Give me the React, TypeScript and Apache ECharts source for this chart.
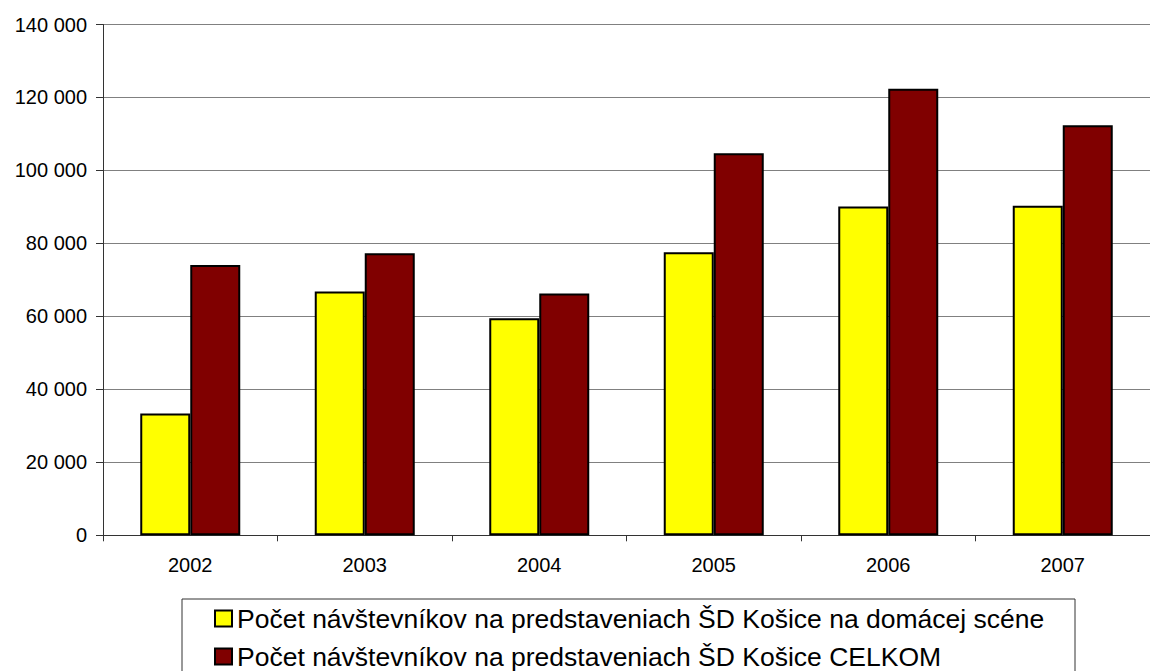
import React, { useEffect, useRef } from "react";
import * as echarts from "echarts";

const years = ["2002", "2003", "2004", "2005", "2006", "2007"];
const homeStage = [33400, 66800, 59500, 77600, 90100, 90300];
const total = [74100, 77300, 66300, 104700, 122400, 112400];
const seriesNames = [
  "Počet návštevníkov na predstaveniach ŠD Košice na domácej scéne",
  "Počet návštevníkov na predstaveniach ŠD Košice CELKOM",
];
const yMin = 0;
const yMax = 140000;
const yStep = 20000;

const FONT = 'Arial, "Liberation Sans", sans-serif';

export default function App() {
  const ref = useRef<HTMLDivElement>(null);
  useEffect(() => {
    document.body.style.margin = "0";
    const chart = echarts.init(ref.current!, null, { renderer: "svg" });
    chart.setOption({
      animation: false,
      backgroundColor: "#ffffff",
      textStyle: { fontFamily: FONT, color: "#000" },
      grid: { left: 103, right: -9, top: 24.5, bottom: 135.7, containLabel: false },
      xAxis: {
        type: "category",
        data: years,
        boundaryGap: true,
        axisLine: { lineStyle: { color: "#333", width: 1 } },
        axisTick: { show: true, length: 6, lineStyle: { color: "#333" } },
        axisLabel: { color: "#000", fontSize: 20, fontFamily: FONT, margin: 20 },
        splitLine: { show: false },
      },
      yAxis: {
        type: "value",
        min: yMin,
        max: yMax,
        interval: yStep,
        axisLine: { show: true, lineStyle: { color: "#333", width: 1 } },
        axisTick: { show: true, length: 7, lineStyle: { color: "#333" } },
        axisLabel: {
          color: "#000",
          fontSize: 20,
          fontFamily: FONT,
          margin: 16,
          formatter: (v: number) => String(v).replace(/\B(?=(\d{3})+(?!\d))/g, " "),
        },
        splitLine: { show: true, lineStyle: { color: "#808080", width: 1 } },
      },
      legend: {
        orient: "vertical",
        left: 214,
        top: 605,
        padding: 0,
        itemWidth: 17,
        itemHeight: 16,
        itemGap: 11,
        icon: "rect",
        textStyle: { fontSize: 26.5, fontFamily: FONT, color: "#000", lineHeight: 26 },
        data: seriesNames,
      },
      graphic: [
        {
          type: "rect",
          shape: { x: 182, y: 599, width: 893, height: 80 },
          style: { fill: "none", stroke: "#333", lineWidth: 1 },
          z: -1,
        },
      ],
      series: [
        {
          name: seriesNames[0],
          type: "bar",
          data: homeStage,
          barWidth: 50,
          barGap: "0%",
          itemStyle: { color: "#FFFF00", borderColor: "#000", borderWidth: 2 },
        },
        {
          name: seriesNames[1],
          type: "bar",
          data: total,
          barWidth: 50,
          barGap: "0%",
          itemStyle: { color: "#800000", borderColor: "#000", borderWidth: 2 },
        },
      ],
    });
    return () => chart.dispose();
  }, []);
  return <div ref={ref} style={{ width: 1150, height: 671, position: "absolute", left: 0, top: 0 }} />;
}
